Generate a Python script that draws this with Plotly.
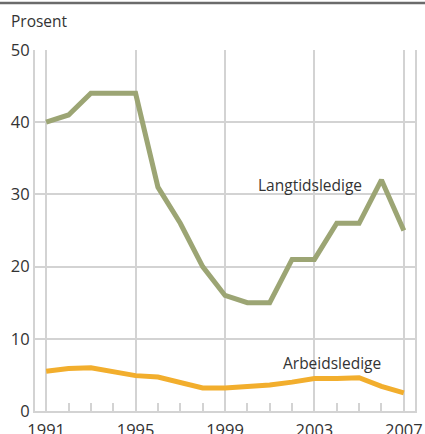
import plotly.graph_objects as go

years = list(range(1991, 2008))
langtidsledige = [40, 41, 44, 44, 44, 31, 26, 20, 16, 15, 15, 21, 21, 26, 26, 32, 25]
arbeidsledige = [5.5, 5.9, 6.0, 5.4, 4.9, 4.7, 4.0, 3.2, 3.2, 3.4, 3.6, 4.0, 4.5, 4.5, 4.6, 3.4, 2.5]
x_ticks = [1991, 1995, 1999, 2003, 2007]
y_ticks = [0, 10, 20, 30, 40, 50]

green = "#9ca574"
orange = "#f2ae2d"
grid = "#d3d3d3"
txt = "#333333"
font = "Open Sans"

fig = go.Figure()
fig.add_trace(go.Scatter(x=years, y=langtidsledige, mode="lines",
                         line=dict(color=green, width=5), name="Langtidsledige"))
fig.add_trace(go.Scatter(x=years, y=arbeidsledige, mode="lines",
                         line=dict(color=orange, width=5), name="Arbeidsledige"))

fig.add_annotation(x=2002.8, y=31.3, text="Langtidsledige", showarrow=False,
                   font=dict(family=font, size=15.5, color=txt))
fig.add_annotation(x=2003.8, y=6.6, text="Arbeidsledige", showarrow=False,
                   font=dict(family=font, size=15.5, color=txt))
fig.add_annotation(xref="paper", yref="paper", x=-0.068, y=1.08, xanchor="left",
                   yanchor="middle", text="Prosent", showarrow=False,
                   font=dict(family=font, size=15.5, color=txt))
fig.add_shape(type="line", xref="paper", yref="paper", x0=-0.1, x1=1.05,
              y0=1.130, y1=1.130, line=dict(color="#6b6b6b", width=2.5))

fig.update_layout(
    width=425, height=434,
    margin=dict(l=35, r=10, t=50, b=23),
    paper_bgcolor="white", plot_bgcolor="white",
    showlegend=False,
    font=dict(family=font, size=16, color=txt),
    xaxis=dict(range=[1990.5, 2007.5], tickvals=x_ticks, showgrid=True,
               gridcolor=grid, gridwidth=2, showline=True, linecolor=grid,
               linewidth=2, ticks="", zeroline=False, automargin=False,
               ticklabelstandoff=3,
               minor=dict(tickvals=years, ticks="inside", ticklen=8,
                          tickwidth=2, tickcolor=grid, showgrid=False),
               tickfont=dict(family=font, size=16.5, color=txt)),
    yaxis=dict(range=[0, 50], tickvals=y_ticks, showgrid=True,
               gridcolor=grid, gridwidth=2, showline=True, mirror=True,
               linecolor=grid, linewidth=2, ticks="", zeroline=False,
               automargin=False,
               tickfont=dict(family=font, size=16.5, color=txt)),
)

fig.write_html("out.html", config={"displayModeBar": False},
               post_script="document.body.style.margin='0';")
